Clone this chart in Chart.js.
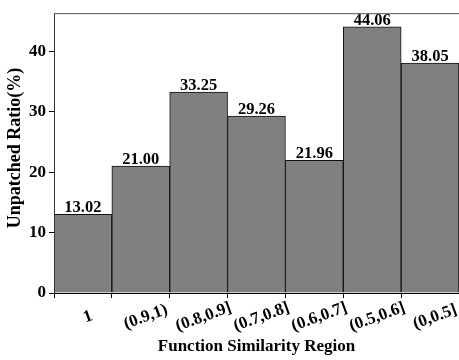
<!DOCTYPE html>
<html>
<head>
<meta charset="utf-8">
<script src="https://cdn.jsdelivr.net/npm/chart.js@4.4.0/dist/chart.umd.min.js"></script>
<style>
  html, body { margin: 0; padding: 0; background: #fff; }
  #wrap { width: 459px; height: 360px; }
</style>
</head>
<body>
<div id="wrap"><canvas id="simChart" width="459" height="360"></canvas></div>
<script>
// Datos del gráfico
const regions = ['1', '(0.9,1)', '(0.8,0.9]', '(0.7,0.8]', '(0.6,0.7]', '(0.5,0.6]', '(0,0.5]'];
const unpatched = [13.02, 21.00, 33.25, 29.26, 21.96, 44.06, 38.05];
const yTicks = [0, 10, 20, 30, 40];

const FONT = '"Liberation Serif", "Times New Roman", serif';

// Etiquetas, títulos y borde superior dibujados a mano
const extrasPlugin = {
    id: 'extras',
    afterDraw(chart) {
        const ctx = chart.ctx;
        const area = chart.chartArea;
        const xScale = chart.scales.x;

        ctx.save();
        // borde superior
        ctx.strokeStyle = '#555';
        ctx.lineWidth = 1;
        ctx.beginPath();
        ctx.moveTo(area.left, area.top + 0.5);
        ctx.lineTo(area.right, area.top + 0.5);
        ctx.stroke();

        // valores sobre las barras
        ctx.fillStyle = '#000';
        ctx.font = 'bold 16.5px ' + FONT;
        ctx.textAlign = 'center';
        ctx.textBaseline = 'alphabetic';
        chart.getDatasetMeta(0).data.forEach((bar, i) => {
            ctx.fillText(unpatched[i].toFixed(2), bar.x, bar.y - 2);
        });

        // etiquetas del eje x, giradas
        ctx.font = 'bold 17px ' + FONT;
        ctx.textBaseline = 'middle';
        regions.forEach((lab, i) => {
            const x = xScale.getPixelForTick(i);
            ctx.save();
            ctx.translate(x + 5, area.bottom + 24);
            ctx.rotate(-20 * Math.PI / 180);
            ctx.fillText(lab, 0, 0);
            ctx.restore();
        });

        // títulos de los ejes
        ctx.font = 'bold 17px ' + FONT;
        ctx.fillText('Function Similarity Region', (area.left + area.right) / 2, 347);
        ctx.font = 'bold 18px ' + FONT;
        ctx.save();
        ctx.translate(15, 148);
        ctx.rotate(-Math.PI / 2);
        ctx.fillText('Unpatched Ratio(%)', 0, 0);
        ctx.restore();
        ctx.restore();
    }
};

new Chart(document.getElementById('simChart').getContext('2d'), {
    type: 'bar',
    data: {
        labels: regions,
        datasets: [{
            data: unpatched,
            backgroundColor: '#808080',
            borderColor: '#111',
            borderWidth: 1,
            categoryPercentage: 1.0,
            barPercentage: 1.0
        }]
    },
    options: {
        responsive: false,
        animation: false,
        layout: { padding: { top: 4, right: 0, left: 0, bottom: 0 } },
        plugins: {
            legend: { display: false },
            tooltip: { enabled: false }
        },
        scales: {
            x: {
                offset: true,
                grid: { drawOnChartArea: false, tickLength: 5, color: '#000' },
                border: { color: '#000', width: 1 },
                ticks: { display: false },
                afterFit: (scale) => { scale.height = 67; }
            },
            y: {
                min: 0,
                max: 46.3,
                afterBuildTicks: (scale) => {
                    scale.ticks = yTicks.map(v => ({ value: v }));
                },
                grid: { drawOnChartArea: false, tickLength: 5, color: '#000' },
                border: { color: '#333', width: 1 },
                ticks: {
                    color: '#000',
                    padding: 3,
                    font: { family: FONT, size: 17, weight: 'bold' }
                },
                afterFit: (scale) => { scale.width = 54; }
            }
        }
    },
    plugins: [extrasPlugin]
});
</script>
</body>
</html>
